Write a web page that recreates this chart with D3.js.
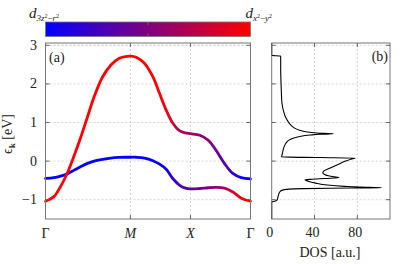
<!DOCTYPE html>
<html lang="en">
<head>
<meta charset="UTF-8">
<title>Bands and DOS</title>
<script src="https://d3js.org/d3.v7.min.js"></script>
<style>
    body { margin: 0; background: #fff; }
    svg text { font-family: "Liberation Serif", "Times New Roman", "DejaVu Serif", serif; }
    .frame { fill: none; stroke: #777; stroke-width: 1; }
    .grid { stroke: #c4c4c4; stroke-width: 0.7; stroke-dasharray: 2,2; }
    .tick { stroke: #666; stroke-width: 1; }
</style>
</head>
<body>
<svg id="chart" width="415" height="264" fill="#222"></svg>
<script>
// k path: Gamma - M - X - Gamma (units of pi/a)
const kTicks = [0, 1.414, 2.414, 3.414];
const kLabels = ["Γ", "M", "X", "Γ"];
const energyTicks = [-1, 0, 1, 2, 3];
const dosTicks = [0, 40, 80];

const kPoints = [0, 0.14, 0.25, 0.36, 0.47, 0.59, 0.70, 0.81, 0.95, 1.09, 1.22, 1.33, 1.414,
    1.51, 1.65, 1.79, 1.90, 2.01, 2.12, 2.23, 2.33, 2.414, 2.57, 2.71, 2.84, 2.98, 3.12, 3.26, 3.414];
const bandUpper = [-1.04, -0.92, -0.66, -0.32, 0.11, 0.63, 1.15, 1.67, 2.18, 2.49, 2.66, 2.71, 2.72,
    2.69, 2.53, 2.18, 1.75, 1.32, 0.98, 0.79, 0.73, 0.71, 0.67, 0.54, 0.28, -0.06, -0.32, -0.43, -0.46];
const bandLower = [-0.45, -0.43, -0.39, -0.33, -0.24, -0.14, -0.06, 0.0, 0.045, 0.08, 0.095, 0.10, 0.10,
    0.10, 0.08, 0.01, -0.08, -0.21, -0.45, -0.62, -0.70, -0.72, -0.71, -0.69, -0.68, -0.70, -0.80, -0.96, -1.04];
// d_{x2-y2} weight of the upper band (lower band = 1 - w)
const weightUpper = [1, 1, 1, 1, 1, 1, 1, 1, 1, 1, 1, 1, 1,
    1, 1, 1, 1, 0.92, 0.8, 0.7, 0.65, 0.62, 0.57, 0.52, 0.45, 0.33, 0.18, 0.06, 0];

const dosEnergy = [-1.50, -1.06, -1.045, -1.03, -1.00, -0.95, -0.88, -0.80, -0.76, -0.74, -0.725, -0.713,
    -0.703, -0.696, -0.690, -0.675, -0.655, -0.62, -0.57, -0.52, -0.485, -0.47, -0.45, -0.425, -0.405,
    -0.38, -0.34, -0.30, -0.26, -0.20, -0.10, 0.00, 0.05, 0.078, 0.092, 0.108, 0.20, 0.35, 0.45, 0.55,
    0.63, 0.675, 0.695, 0.708, 0.73, 0.76, 0.80, 0.88, 0.98, 1.15, 1.30, 1.50, 1.80, 2.10, 2.40, 2.70,
    2.725, 2.735, 3.06];
const dosValue = [0, 0, 1.5, 4.0, 5.2, 5.7, 6.3, 7.5, 9.0, 12, 16, 30,
    55, 80, 102.5, 82, 68, 52, 41, 34, 31, 38, 50, 63, 58,
    53, 49, 47.8, 48.5, 53, 61, 69, 74, 78, 45, 9.3, 10, 11.3, 13, 16.5,
    25, 36, 45, 57.6, 42, 32, 26, 20, 16.5, 12.8, 11.0, 9.6, 9.0, 8.6, 8.4, 8.4,
    8.0, 0, 0];

const svg = d3.select("#chart");
const defs = svg.append("defs");
const color = d3.interpolateRgb("#0000ff", "#ff0000");

const y = d3.scaleLinear().domain([-1.5, 3.06]).range([219, 43]);
const x = d3.scaleLinear().domain([0, 3.414]).range([45.5, 250.5]);
const xd = d3.scaleLinear().domain([0, 110.5]).range([271.7, 390]);

// ---- colour bar ----
const cb = defs.append("linearGradient").attr("id", "cbar");
cb.append("stop").attr("offset", "0%").attr("stop-color", color(0));
cb.append("stop").attr("offset", "50%").attr("stop-color", color(0.5));
cb.append("stop").attr("offset", "100%").attr("stop-color", color(1));
svg.append("rect")
    .attr("x", 45.5).attr("y", 22).attr("width", 205).attr("height", 14.5)
    .attr("fill", "url(#cbar)").attr("stroke", "#777").attr("stroke-width", 0.8);
[22, 36.5].forEach((yy, i) => {
    svg.append("line").attr("class", "tick")
        .attr("x1", 148).attr("x2", 148)
        .attr("y1", yy).attr("y2", i ? yy - 3 : yy + 3);
});
const lab1 = svg.append("text").attr("x", 29).attr("y", 18).attr("font-size", 15);
lab1.append("tspan").attr("font-style", "italic").text("d");
lab1.append("tspan").attr("font-size", 9).attr("dy", 3).attr("font-style", "italic").text("3z");
lab1.append("tspan").attr("font-size", 6).attr("dy", -3.5).text("2");
lab1.append("tspan").attr("font-size", 9).attr("dy", 3.5).text("−");
lab1.append("tspan").attr("font-size", 9).attr("font-style", "italic").text("r");
lab1.append("tspan").attr("font-size", 6).attr("dy", -3.5).text("2");
const lab2 = svg.append("text").attr("x", 272).attr("y", 18).attr("font-size", 15).attr("text-anchor", "end");
lab2.append("tspan").attr("font-style", "italic").text("d");
lab2.append("tspan").attr("font-size", 9).attr("dy", 3).attr("font-style", "italic").text("x");
lab2.append("tspan").attr("font-size", 6).attr("dy", -3.5).text("2");
lab2.append("tspan").attr("font-size", 9).attr("dy", 3.5).text("−");
lab2.append("tspan").attr("font-size", 9).attr("font-style", "italic").text("y");
lab2.append("tspan").attr("font-size", 6).attr("dy", -3.5).text("2");

// ---- panel (a): bands ----
const ga = svg.append("g");
ga.selectAll(".gy").data(energyTicks.concat([3])).enter().append("line")
    .attr("class", "grid")
    .attr("x1", x.range()[0]).attr("x2", x.range()[1])
    .attr("y1", d => y(d)).attr("y2", d => y(d));
ga.selectAll(".gx").data(kTicks.slice(1, 3)).enter().append("line")
    .attr("class", "grid")
    .attr("x1", d => x(d)).attr("x2", d => x(d))
    .attr("y1", y.range()[0]).attr("y2", y.range()[1]);

function bandGradient(id, weights) {
    const g = defs.append("linearGradient").attr("id", id)
        .attr("gradientUnits", "userSpaceOnUse")
        .attr("x1", x(0)).attr("x2", x(3.414)).attr("y1", 0).attr("y2", 0);
    g.selectAll("stop").data(kPoints).enter().append("stop")
        .attr("offset", d => d / 3.414)
        .attr("stop-color", (d, i) => color(weights[i]));
}
bandGradient("gUpper", weightUpper);
bandGradient("gLower", weightUpper.map(w => 1 - w));

const bandLine = d3.line()
    .x(d => x(d[0])).y(d => y(d[1]))
    .curve(d3.curveCatmullRom.alpha(0.5));

[[bandLower, "gLower"], [bandUpper, "gUpper"]].forEach(([band, id]) => {
    ga.append("path")
        .attr("d", bandLine(kPoints.map((k, i) => [k, band[i]])))
        .attr("fill", "none")
        .attr("stroke", `url(#${id})`)
        .attr("stroke-width", 2.8)
        .attr("stroke-linecap", "round");
});

ga.append("rect").attr("class", "frame")
    .attr("x", 45.5).attr("y", 43).attr("width", 205).attr("height", 176);
energyTicks.forEach(e => {
    ga.append("line").attr("class", "tick").attr("x1", 45.5).attr("x2", 49.5).attr("y1", y(e)).attr("y2", y(e));
    ga.append("line").attr("class", "tick").attr("x1", 250.5).attr("x2", 246.5).attr("y1", y(e)).attr("y2", y(e));
});
kTicks.slice(1, 3).forEach(k => {
    ga.append("line").attr("class", "tick").attr("x1", x(k)).attr("x2", x(k)).attr("y1", 219).attr("y2", 215);
    ga.append("line").attr("class", "tick").attr("x1", x(k)).attr("x2", x(k)).attr("y1", 43).attr("y2", 47);
});
ga.selectAll(".ylab").data(energyTicks).enter().append("text")
    .attr("x", 37).attr("y", d => y(d) + 4.5)
    .attr("text-anchor", "end").attr("font-size", 14)
    .text(d => d < 0 ? "−" + Math.abs(d) : d);
ga.selectAll(".xlab").data(kTicks).enter().append("text")
    .attr("x", d => x(d)).attr("y", 238)
    .attr("text-anchor", "middle").attr("font-size", 14)
    .attr("font-style", (d, i) => (i === 1 || i === 2) ? "italic" : "normal")
    .text((d, i) => kLabels[i]);
ga.append("text").attr("x", 49).attr("y", 62).attr("font-size", 14).text("(a)");

const ylab = ga.append("text")
    .attr("transform", "translate(12,134) rotate(-90)")
    .attr("text-anchor", "middle").attr("font-size", 14);
ylab.append("tspan").text("ϵ");
ylab.append("tspan").attr("font-size", 9).attr("font-weight", "bold").attr("dy", 3).text("k");
ylab.append("tspan").attr("dy", -3).text(" [eV]");

// ---- panel (b): DOS ----
const gb = svg.append("g");
gb.selectAll(".gy").data(energyTicks).enter().append("line")
    .attr("class", "grid")
    .attr("x1", xd.range()[0]).attr("x2", xd.range()[1])
    .attr("y1", d => y(d)).attr("y2", d => y(d));
gb.selectAll(".gx").data(dosTicks.slice(1)).enter().append("line")
    .attr("class", "grid")
    .attr("x1", d => xd(d)).attr("x2", d => xd(d))
    .attr("y1", y.range()[0]).attr("y2", y.range()[1]);

const dosLine = d3.line()
    .x(d => xd(d[1])).y(d => y(d[0]))
    .curve(d3.curveMonotoneY);
gb.append("path")
    .attr("d", dosLine(dosEnergy.map((e, i) => [e, dosValue[i]])))
    .attr("fill", "none").attr("stroke", "#000").attr("stroke-width", 1.1);

gb.append("rect").attr("class", "frame")
    .attr("x", 271.7).attr("y", 43).attr("width", 118.3).attr("height", 176);
energyTicks.forEach(e => {
    gb.append("line").attr("class", "tick").attr("x1", 271.7).attr("x2", 275.7).attr("y1", y(e)).attr("y2", y(e));
    gb.append("line").attr("class", "tick").attr("x1", 390).attr("x2", 386).attr("y1", y(e)).attr("y2", y(e));
});
dosTicks.slice(1).forEach(v => {
    gb.append("line").attr("class", "tick").attr("x1", xd(v)).attr("x2", xd(v)).attr("y1", 219).attr("y2", 215);
    gb.append("line").attr("class", "tick").attr("x1", xd(v)).attr("x2", xd(v)).attr("y1", 43).attr("y2", 47);
});
gb.selectAll(".dlab").data(dosTicks).enter().append("text")
    .attr("x", d => xd(d) - 2).attr("y", 237)
    .attr("text-anchor", "middle").attr("font-size", 14)
    .text(d => d);
gb.append("text").attr("x", 330).attr("y", 257).attr("text-anchor", "middle")
    .attr("font-size", 14).text("DOS [a.u.]");
gb.append("text").attr("x", 388).attr("y", 61).attr("text-anchor", "end")
    .attr("font-size", 14).text("(b)");
</script>
</body>
</html>
